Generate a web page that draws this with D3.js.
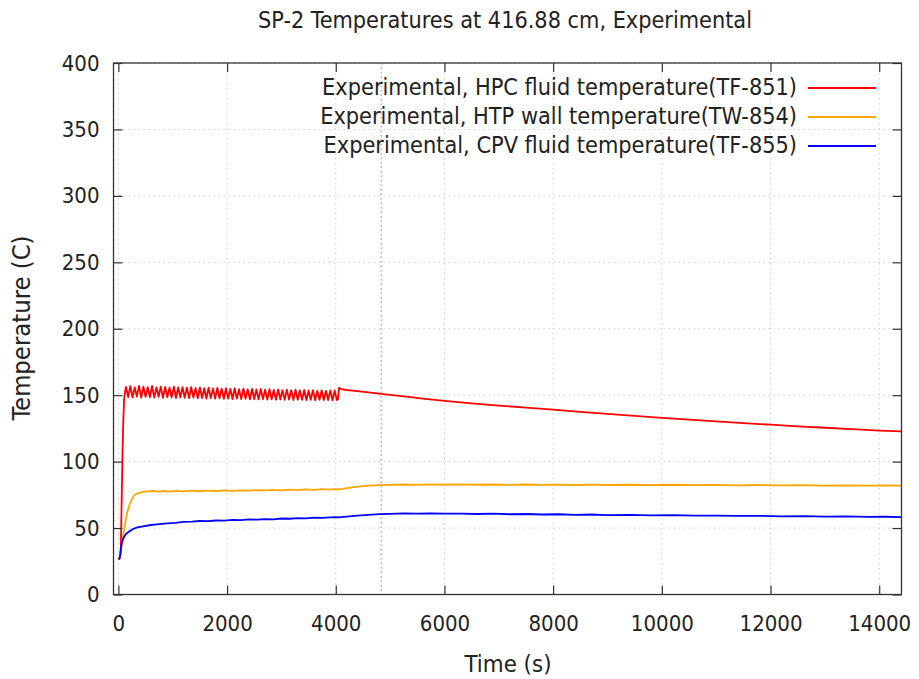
<!DOCTYPE html>
<html>
<head>
<meta charset="utf-8">
<script src="https://cdn.jsdelivr.net/npm/d3@7"></script>
<style>
  html, body { margin: 0; padding: 0; background: #fff; }
  svg text { font-family: "DejaVu Sans Condensed", "DejaVu Sans", sans-serif; fill: #222; }
</style>
</head>
<body>
<svg id="chart" width="919" height="679"></svg>
<script>
// ---------------- DATA ----------------
const title = "SP-2 Temperatures at 416.88 cm, Experimental";
const xLabel = "Time (s)";
const yLabel = "Temperature (C)";
const xTicks = [0, 2000, 4000, 6000, 8000, 10000, 12000, 14000];
const yTicks = [0, 50, 100, 150, 200, 250, 300, 350, 400];
const markerTime = 4835;

const seriesNames = [
  "Experimental, HPC fluid temperature(TF-851)",
  "Experimental, HTP wall temperature(TW-854)",
  "Experimental, CPV fluid temperature(TF-855)"
];
const seriesColors = ["#ff0000", "#ffa500", "#0000ff"];

// TF-851 (red): start-up, oscillating plateau, then slow decline
const redTimeStart = [0, 30, 45, 60, 75, 90, 105, 120];
const redValStart  = [27, 27.5, 35, 70, 105, 130, 147, 152];
const redTimeOsc = [140,180,220,260,300,340,380,420,460,500,540,580,620,660,700,740,780,820,860,900,
  940,980,1020,1060,1100,1140,1180,1220,1260,1300,1340,1380,1420,1460,1500,1540,1580,1620,1660,1700,
  1740,1780,1820,1860,1900,1940,1980,2020,2060,2100,2140,2180,2220,2260,2300,2340,2380,2420,2460,2500,
  2540,2580,2620,2660,2700,2740,2780,2820,2860,2900,2940,2980,3020,3060,3100,3140,3180,3220,3260,3300,
  3340,3380,3420,3460,3500,3540,3580,3620,3660,3700,3740,3780,3820,3860,3900,3940,3980,4020];
const redValOsc = [156.2,148.6,156.8,148.3,155.9,148.9,157.0,148.1,156.4,148.7,156.1,148.4,156.9,148.2,155.8,148.8,
  156.5,148.0,156.2,148.5,155.7,148.3,156.4,147.9,155.9,148.4,156.1,148.0,155.6,147.8,156.0,148.2,
  155.4,147.7,155.8,147.9,155.2,147.5,155.6,147.8,155.1,147.4,155.5,147.6,154.9,147.2,155.3,147.5,
  154.8,147.1,155.2,147.4,154.6,147.0,155.0,147.2,154.4,146.9,154.8,147.1,154.3,146.8,154.7,147.0,
  154.1,146.7,154.5,146.9,154.0,146.6,154.3,146.8,153.8,146.5,154.2,146.7,153.7,146.4,154.1,146.6,
  153.6,146.5,153.9,146.3,153.5,146.6,153.8,146.2,153.4,146.5,153.7,146.3,153.3,146.4,153.6,146.2,
  153.5,146.4];
const redTimeEnd = [4040, 4060, 4100, 4200, 4400, 4600, 4800, 5000, 5300, 5600, 6000, 6500, 7000, 7500, 8000,
  8500, 9000, 9500, 10000, 10500, 11000, 11500, 12000, 12500, 13000, 13500, 14000, 14400];
const redValEnd = [147.0, 155.5, 154.6, 153.9, 153.1, 152.1, 151.2, 150.2, 148.9, 147.4, 145.7, 143.9, 142.2, 140.7, 139.2,
  137.5, 135.9, 134.4, 133.0, 131.6, 130.3, 128.9, 127.8, 126.6, 125.5, 124.4, 123.4, 122.8];

// TW-854 (orange)
const orangeTime = [0,30,50,80,110,140,170,200,240,280,320,380,450,550,650,750,850,950,1050,1200,1350,1500,1650,1800,
  1950,2100,2250,2400,2550,2700,2850,3000,3150,3300,3450,3600,3750,3900,4000,4050,4150,4300,4450,4600,4800,
  5000,5250,5500,5750,6000,6300,6600,6900,7200,7500,7800,8100,8400,8700,9000,9400,9800,10200,10600,11000,
  11400,11800,12200,12600,13000,13400,13800,14100,14400];
const orangeVal = [27,28,33,42,50,57,63,67,71,74,75.5,76.5,77.2,77.6,77.9,77.4,77.9,77.5,78.0,77.6,78.1,77.7,78.2,77.9,
  78.3,78.0,78.4,78.1,78.6,78.3,78.7,78.4,78.9,78.6,79.1,78.8,79.3,79.0,79.4,79.0,79.6,80.6,81.4,81.9,82.3,
  82.5,82.8,82.5,82.9,82.6,82.9,82.6,82.8,82.5,82.8,82.5,82.7,82.4,82.7,82.4,82.6,82.3,82.6,82.3,82.5,
  82.2,82.4,82.1,82.3,82.0,82.2,81.9,82.1,81.9];

// TF-855 (blue)
const blueTime = [0,20,35,50,70,100,140,200,270,350,450,600,750,900,1050,1200,1350,1500,1650,1800,1950,2100,2250,
  2400,2550,2700,2850,3000,3150,3300,3450,3600,3750,3900,4000,4050,4200,4400,4600,4800,5000,5250,5500,5750,6000,
  6300,6600,6900,7200,7500,7800,8100,8400,8700,9000,9400,9800,10200,10600,11000,11400,11800,12200,12600,13000,
  13400,13800,14100,14400];
const blueVal = [26.5,26.8,30,36,40,43,45.5,47.5,49.3,50.5,51.3,52.3,53.0,53.6,53.9,54.6,54.8,55.3,55.2,55.7,55.6,56.1,55.9,
  56.5,56.3,56.8,56.6,57.2,57.0,57.5,57.3,57.8,57.6,58.1,58.3,58.0,58.6,59.4,60.0,60.5,60.7,61.0,60.8,61.1,60.8,
  60.9,60.6,60.8,60.4,60.6,60.2,60.4,60.0,60.2,59.8,59.9,59.5,59.7,59.3,59.4,59.1,59.2,58.8,59.0,58.6,
  58.8,58.4,58.5,58.3];

// ---------------- CHART ----------------
const svg = d3.select("#chart");
const m = { left: 113.5, right: 901.5, top: 63, bottom: 594.5 };

const x = d3.scaleLinear().domain([-90, 14410]).range([m.left, m.right]);
const y = d3.scaleLinear().domain([0, 400]).range([m.bottom, m.top]);

const zip = (ts, vs) => ts.map((t, i) => [t, vs[i]]);
const redData = zip(redTimeStart, redValStart)
  .concat(zip(redTimeOsc, redValOsc))
  .concat(zip(redTimeEnd, redValEnd));
const orangeData = zip(orangeTime, orangeVal);
const blueData = zip(blueTime, blueVal);
const allSeries = [redData, orangeData, blueData];

// fit a text element to a target width
function fitWidth(sel, target) {
  const node = sel.node();
  const base = parseFloat(sel.style("font-size"));
  const w = node.getComputedTextLength();
  if (w > 0) sel.style("font-size", (base * target / w).toFixed(2) + "px");
  return sel;
}

// grid
const grid = svg.append("g").attr("class", "grid");
grid.selectAll("line.vx").data(xTicks).join("line")
  .attr("x1", d => x(d)).attr("x2", d => x(d))
  .attr("y1", m.top).attr("y2", m.bottom)
  .attr("stroke", "#cfcfcf").attr("stroke-width", 1).attr("stroke-dasharray", "1.5,3.5");
grid.selectAll("line.hy").data(yTicks).join("line")
  .attr("x1", m.left).attr("x2", m.right)
  .attr("y1", d => y(d)).attr("y2", d => y(d))
  .attr("stroke", "#cfcfcf").attr("stroke-width", 1).attr("stroke-dasharray", "1.5,3.5");

// marker vertical line
svg.append("line")
  .attr("x1", x(markerTime)).attr("x2", x(markerTime))
  .attr("y1", m.top).attr("y2", m.bottom)
  .attr("stroke", "#8a8a8a").attr("stroke-width", 1).attr("stroke-dasharray", "1.5,3");

// clip
svg.append("clipPath").attr("id", "clip").append("rect")
  .attr("x", m.left).attr("y", m.top).attr("width", m.right - m.left).attr("height", m.bottom - m.top);

const line = d3.line().x(d => x(d[0])).y(d => y(d[1]));
svg.append("g").attr("clip-path", "url(#clip)")
  .selectAll("path").data(allSeries).join("path")
  .attr("d", line)
  .attr("fill", "none")
  .attr("stroke", (d, i) => seriesColors[i])
  .attr("stroke-width", 1.8)
  .attr("stroke-linejoin", "round");

// axes (ticks inward, mirrored)
const tickLen = 9;
const axisColor = "#333";
const tickFont = "22px";
const bottomAxis = d3.axisBottom(x).tickValues(xTicks).tickSize(-tickLen).tickPadding(21).tickFormat(d3.format("d"));
const leftAxis = d3.axisLeft(y).tickValues(yTicks).tickSize(-tickLen).tickPadding(14).tickFormat(d3.format("d"));
const topAxis = d3.axisTop(x).tickValues(xTicks).tickSize(-tickLen).tickFormat("");
const rightAxis = d3.axisRight(y).tickValues(yTicks).tickSize(-tickLen).tickFormat("");

function styleAxis(g) {
  g.select(".domain").remove();
  g.selectAll(".tick line").attr("stroke", axisColor).attr("stroke-width", 1.2);
  g.selectAll(".tick text").attr("fill", "#222").style("font-size", tickFont)
    .style("font-family", "'DejaVu Sans Condensed', 'DejaVu Sans', sans-serif");
}
svg.append("g").attr("transform", `translate(0,${m.bottom})`).call(bottomAxis).call(styleAxis);
svg.append("g").attr("transform", `translate(${m.left},0)`).call(leftAxis).call(styleAxis);
svg.append("g").attr("transform", `translate(0,${m.top})`).call(topAxis).call(styleAxis);
svg.append("g").attr("transform", `translate(${m.right},0)`).call(rightAxis).call(styleAxis);

// border
svg.append("rect")
  .attr("x", m.left).attr("y", m.top).attr("width", m.right - m.left).attr("height", m.bottom - m.top)
  .attr("fill", "none").attr("stroke", axisColor).attr("stroke-width", 1.3);

// title & labels
const tt = svg.append("text").attr("x", 505).attr("y", 28).attr("text-anchor", "middle")
  .style("font-size", "22px").text(title);
fitWidth(tt, 494);
const xl = svg.append("text").attr("x", 508).attr("y", 672).attr("text-anchor", "middle")
  .style("font-size", "22px").text(xLabel);
fitWidth(xl, 87);
const yl = svg.append("text").attr("transform", "translate(30,328) rotate(-90)").attr("text-anchor", "middle")
  .style("font-size", "22px").text(yLabel);
fitWidth(yl, 185);

// legend
const legend = svg.append("g");
const legY = [88, 117, 146];
seriesNames.forEach((name, i) => {
  const t = legend.append("text").attr("x", 797).attr("y", legY[i] + 7).attr("text-anchor", "end")
    .style("font-size", "22px").text(name);
  if (i === 0) fitWidth(t, 475);
  legend.append("line").attr("x1", 808).attr("x2", 876).attr("y1", legY[i]).attr("y2", legY[i])
    .attr("stroke", seriesColors[i]).attr("stroke-width", 1.8);
});
// keep legend font uniform
const legSize = legend.select("text").style("font-size");
legend.selectAll("text").style("font-size", legSize);
</script>
</body>
</html>
